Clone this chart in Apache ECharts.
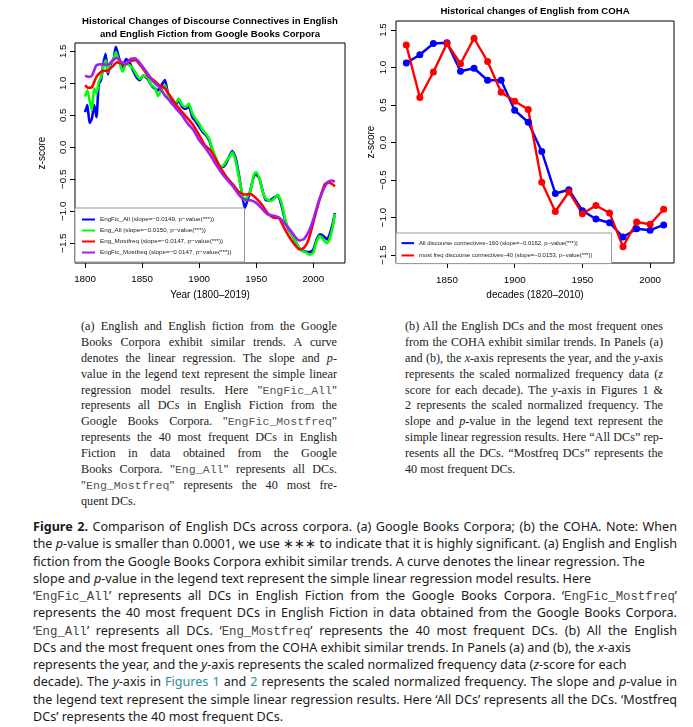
<!DOCTYPE html>
<html>
<head>
<meta charset="utf-8">
<script src="https://cdn.jsdelivr.net/npm/echarts@6/dist/echarts.min.js"></script>
<style>
body { margin: 0; width: 693px; height: 727px; background: #fff; position: relative; overflow: hidden; }
#chart { position: absolute; left: 0; top: 0; width: 693px; height: 305px; }
.sub { position: absolute; top: 319px; font-family: "Liberation Serif", serif; font-size: 12.2px; color: #222; }
.sub div { height: 15.9px; line-height: 15.9px; text-align: justify; text-align-last: justify; overflow: hidden; }
.sub div.last { text-align-last: left; }
.mono { font-family: "Liberation Mono", monospace; color: #555; }
.sub .mono { font-size: 11.6px; }
.cap { position: absolute; left: 33px; top: 518px; width: 644px; font-family: "Noto Sans", sans-serif; font-size: 12.6px; color: #1a1a1a; }
.cap div { height: 17.27px; line-height: 17.27px; white-space: nowrap; overflow: hidden; }
.cap div.j { white-space: normal; text-align: justify; text-align-last: justify; }
.cap .mono { font-size: 12.3px; color: #444; }
.lnk { color: #2f8c9c; }
</style>
</head>
<body>
<div id="chart"></div>

<div class="sub" style="left:81px;width:256px;">
  <div>(a) English and English fiction from the Google</div>
  <div>Books Corpora exhibit similar trends. A curve</div>
  <div>denotes the linear regression. The slope and <i>p</i>-</div>
  <div>value in the legend text represent the simple linear</div>
  <div>regression model results. Here "<span class="mono">EngFic_All</span>"</div>
  <div>represents all DCs in English Fiction from the</div>
  <div>Google Books Corpora. "<span class="mono">EngFic_Mostfreq</span>"</div>
  <div>represents the 40 most frequent DCs in English</div>
  <div>Fiction in data obtained from the Google</div>
  <div>Books Corpora. "<span class="mono">Eng_All</span>" represents all DCs.</div>
  <div>"<span class="mono">Eng_Mostfreq</span>" represents the 40 most fre-</div>
  <div class="last">quent DCs.</div>
</div>

<div class="sub" style="left:405px;width:258px;">
  <div>(b) All the English DCs and the most frequent ones</div>
  <div>from the COHA exhibit similar trends. In Panels (a)</div>
  <div>and (b), the <i>x</i>-axis represents the year, and the <i>y</i>-axis</div>
  <div>represents the scaled normalized frequency data (<i>z</i></div>
  <div>score for each decade). The <i>y</i>-axis in Figures 1 &amp;</div>
  <div>2 represents the scaled normalized frequency. The</div>
  <div>slope and <i>p</i>-value in the legend text represent the</div>
  <div>simple linear regression results. Here “All DCs” rep-</div>
  <div>resents all the DCs. “Mostfreq DCs” represents the</div>
  <div class="last">40 most frequent DCs.</div>
</div>

<div class="cap">
  <div class="j"><b>Figure 2.</b> Comparison of English DCs across corpora. (a) Google Books Corpora; (b) the COHA. Note: When</div>
  <div class="j">the <i>p</i>-value is smaller than 0.0001, we use ∗∗∗ to indicate that it is highly significant. (a) English and English</div>
  <div>fiction from the Google Books Corpora exhibit similar trends. A curve denotes the linear regression. The</div>
  <div>slope and <i>p</i>-value in the legend text represent the simple linear regression model results. Here</div>
  <div class="j">‘<span class="mono">EngFic_All</span>’ represents all DCs in English Fiction from the Google Books Corpora. ‘<span class="mono">EngFic_Mostfreq</span>’</div>
  <div class="j">represents the 40 most frequent DCs in English Fiction in data obtained from the Google Books Corpora.</div>
  <div class="j">‘<span class="mono">Eng_All</span>’ represents all DCs. ‘<span class="mono">Eng_Mostfreq</span>’ represents the 40 most frequent DCs. (b) All the English</div>
  <div>DCs and the most frequent ones from the COHA exhibit similar trends. In Panels (a) and (b), the <i>x</i>-axis</div>
  <div>represents the year, and the <i>y</i>-axis represents the scaled normalized frequency data (<i>z</i>-score for each</div>
  <div class="j">decade). The <i>y</i>-axis in <span class="lnk">Figures 1</span> and <span class="lnk">2</span> represents the scaled normalized frequency. The slope and <i>p</i>-value in</div>
  <div class="j">the legend text represent the simple linear regression results. Here ‘All DCs’ represents all the DCs. ‘Mostfreq</div>
  <div>DCs’ represents the 40 most frequent DCs.</div>
</div>

<script>
// panel (a): Google Books, [year, z-score]
var engFicAll = [[1800,0.55],[1802,0.66],[1804,0.38],[1806,0.45],[1808,0.66],[1810,0.47],[1812,0.99],[1814,1.05],[1816,1.30],[1818,1.46],[1820,1.14],[1822,1.28],[1825,1.38],[1827,1.57],[1830,1.38],[1833,1.25],[1836,1.38],[1839,1.33],[1842,1.20],[1845,1.10],[1848,1.05],[1851,1.12],[1855,1.07],[1858,0.97],[1861,0.92],[1864,0.89],[1867,0.97],[1870,1.05],[1873,0.81],[1876,0.71],[1879,0.66],[1882,0.73],[1885,0.63],[1888,0.60],[1891,0.63],[1894,0.47],[1897,0.40],[1900,0.32],[1903,0.24],[1906,0.19],[1909,0.10],[1912,-0.07],[1915,-0.20],[1918,-0.31],[1921,-0.31],[1924,-0.24],[1927,-0.12],[1929,-0.06],[1932,-0.17],[1935,-0.45],[1938,-0.78],[1940,-0.95],[1942,-0.85],[1945,-0.67],[1948,-0.45],[1950,-0.43],[1953,-0.50],[1955,-0.64],[1958,-0.82],[1960,-0.83],[1963,-0.82],[1966,-0.78],[1969,-0.76],[1972,-0.90],[1975,-1.12],[1978,-1.28],[1981,-1.36],[1984,-1.46],[1987,-1.56],[1990,-1.61],[1993,-1.63],[1997,-1.64],[2000,-1.60],[2003,-1.44],[2006,-1.36],[2009,-1.39],[2012,-1.44],[2014,-1.38],[2017,-1.20],[2019,-1.03]];
var engAll = [[1800,0.79],[1802,0.89],[1804,0.73],[1806,0.58],[1808,0.92],[1810,0.84],[1812,1.02],[1814,1.10],[1816,1.25],[1818,1.36],[1820,1.18],[1822,1.31],[1825,1.37],[1827,1.49],[1830,1.33],[1833,1.18],[1836,1.31],[1839,1.28],[1842,1.23],[1845,1.14],[1848,1.07],[1851,1.12],[1855,1.09],[1858,0.97],[1861,0.94],[1864,0.80],[1867,0.90],[1870,0.97],[1873,0.79],[1876,0.68],[1879,0.68],[1882,0.76],[1885,0.66],[1888,0.63],[1891,0.68],[1894,0.53],[1897,0.44],[1900,0.37],[1903,0.27],[1906,0.21],[1909,0.12],[1912,-0.05],[1915,-0.18],[1918,-0.30],[1921,-0.29],[1924,-0.21],[1927,-0.14],[1929,-0.08],[1932,-0.22],[1935,-0.48],[1938,-0.75],[1940,-0.83],[1942,-0.78],[1945,-0.67],[1948,-0.43],[1950,-0.39],[1953,-0.50],[1955,-0.65],[1958,-0.80],[1960,-0.82],[1963,-0.84],[1966,-0.80],[1969,-0.74],[1972,-0.86],[1975,-1.10],[1978,-1.27],[1981,-1.36],[1984,-1.46],[1987,-1.56],[1990,-1.62],[1993,-1.64],[1997,-1.68],[2000,-1.65],[2003,-1.47],[2006,-1.39],[2009,-1.45],[2012,-1.50],[2014,-1.45],[2017,-1.25],[2019,-1.04]];
var engMostfreq = [[1800,0.97],[1803,0.93],[1806,0.94],[1810,1.10],[1815,1.19],[1820,1.20],[1825,1.28],[1828,1.33],[1832,1.31],[1836,1.30],[1840,1.35],[1844,1.36],[1850,1.25],[1855,1.12],[1860,1.05],[1865,0.97],[1870,0.92],[1875,0.79],[1880,0.66],[1885,0.55],[1890,0.45],[1895,0.34],[1900,0.19],[1905,0.03],[1910,-0.05],[1915,-0.20],[1920,-0.36],[1925,-0.49],[1930,-0.59],[1935,-0.70],[1940,-0.74],[1945,-0.73],[1950,-0.80],[1955,-0.90],[1960,-1.03],[1965,-1.10],[1970,-1.11],[1975,-1.28],[1980,-1.43],[1985,-1.55],[1988,-1.60],[1992,-1.57],[1996,-1.44],[2000,-1.18],[2005,-0.85],[2010,-0.58],[2013,-0.55],[2016,-0.57],[2019,-0.61]];
var engFicMostfreq = [[1800,1.12],[1803,1.10],[1806,1.12],[1810,1.28],[1815,1.30],[1820,1.29],[1825,1.37],[1828,1.40],[1832,1.33],[1836,1.31],[1840,1.38],[1844,1.39],[1850,1.27],[1855,1.15],[1860,1.02],[1865,0.94],[1870,0.81],[1875,0.71],[1880,0.60],[1885,0.50],[1890,0.37],[1895,0.27],[1900,0.11],[1905,0.00],[1910,-0.13],[1915,-0.28],[1920,-0.41],[1925,-0.52],[1930,-0.62],[1935,-0.75],[1940,-0.82],[1945,-0.83],[1950,-0.87],[1955,-0.96],[1960,-1.05],[1965,-1.07],[1970,-1.10],[1975,-1.19],[1980,-1.30],[1985,-1.42],[1988,-1.46],[1992,-1.43],[1996,-1.32],[2000,-1.13],[2005,-0.83],[2010,-0.62],[2013,-0.54],[2016,-0.52],[2019,-0.54]];

// panel (b): COHA decades
var decades = [1820,1830,1840,1850,1860,1870,1880,1890,1900,1910,1920,1930,1940,1950,1960,1970,1980,1990,2000,2010];
var allDCs = [1.06,1.17,1.32,1.33,0.95,0.99,0.83,0.83,0.43,0.27,-0.12,-0.68,-0.63,-0.91,-1.02,-1.07,-1.26,-1.15,-1.17,-1.10];
var mostfreqDCs = [1.30,0.60,0.94,1.32,1.05,1.39,1.08,0.67,0.55,0.44,-0.53,-0.92,-0.66,-0.95,-0.84,-0.94,-1.39,-1.06,-1.09,-0.89];

var xTicksA = [1800, 1850, 1900, 1950, 2000];
var xTicksB = [1850, 1900, 1950, 2000];
var yTicks = [-1.5, -1, -0.5, 0, 0.5, 1, 1.5];

var namesA = [
  "EngFic_All (slope=\u22120.0149, p\u2212value(***))",
  "Eng_All (slope=\u22120.0150, p\u2212value(***))",
  "Eng_Mostfreq (slope=\u22120.0147, p\u2212value(***))",
  "EngFic_Mostfreq (slope=\u22120.0147, p\u2212value(***))"
];
var namesB = [
  "All discourse connectives\u2212160 (slope=\u22120.0162, p\u2212value(***))",
  "most freq discourse connectives\u221240 (slope=\u22120.0153, p\u2212value(***))"
];

var FONT = "Liberation Sans";

function fmtY(v) {
  return (v < 0 ? "\u2212" : "") + Math.abs(v).toFixed(1);
}

function xAxis(idx, min, max, ticks, name, margin) {
  return {
    type: "value", gridIndex: idx, min: min, max: max,
    name: name, nameLocation: "middle", nameGap: 27,
    nameTextStyle: { fontFamily: FONT, fontSize: 10, color: "#000" },
    axisLine: { show: false, onZero: false },
    splitLine: { show: false },
    axisTick: { show: true, customValues: ticks, length: 5, lineStyle: { color: "#000" } },
    axisLabel: { customValues: ticks, margin: margin, formatter: function (v) { return String(v); },
      fontFamily: FONT, fontSize: 9.8, color: "#000" }
  };
}

function yAxis(idx, min, max, gap, margin) {
  return {
    type: "value", gridIndex: idx, min: min, max: max,
    name: "z-score", nameLocation: "middle", nameRotate: 90, nameGap: gap,
    nameTextStyle: { fontFamily: FONT, fontSize: 10, color: "#000" },
    axisLine: { show: false, onZero: false },
    splitLine: { show: false },
    axisTick: { show: true, customValues: yTicks, length: 5, lineStyle: { color: "#000" } },
    axisLabel: { customValues: yTicks, rotate: 90, margin: margin, formatter: fmtY,
      fontFamily: FONT, fontSize: 9.8, color: "#000" }
  };
}

function lineA(name, data, color) {
  return {
    name: name, type: "line", xAxisIndex: 0, yAxisIndex: 0, data: data,
    showSymbol: false, smooth: 0.2, color: color,
    lineStyle: { width: 2.6, color: color }
  };
}

function lineB(name, vals, color) {
  return {
    name: name, type: "line", xAxisIndex: 1, yAxisIndex: 1,
    data: decades.map(function (d, i) { return [d, vals[i]]; }),
    symbol: "circle", symbolSize: 7, showSymbol: true, color: color,
    itemStyle: { color: color },
    lineStyle: { width: 2.4, color: color }
  };
}

var myChart = echarts.init(document.getElementById("chart"));
myChart.setOption({
  animation: false,
  backgroundColor: "#fff",
  title: [
    {
      text: "Historical Changes of Discourse Connectives in English\nand English Fiction from Google Books Corpora",
      left: 210, top: 15, textAlign: "center", padding: 0,
      textStyle: { fontFamily: FONT, fontSize: 9.6, fontWeight: "bold", lineHeight: 12.6, color: "#000" }
    },
    {
      text: "Historical changes of English from COHA",
      left: 535, top: 5, textAlign: "center", padding: 0,
      textStyle: { fontFamily: FONT, fontSize: 9.6, fontWeight: "bold", lineHeight: 12, color: "#000" }
    }
  ],
  grid: [
    { left: 75, top: 43, width: 270, height: 220, show: true, borderColor: "#000", borderWidth: 1, backgroundColor: "transparent" },
    { left: 396, top: 21, width: 278, height: 242, show: true, borderColor: "#000", borderWidth: 1, backgroundColor: "transparent" }
  ],
  xAxis: [
    xAxis(0, 1791.2, 2027.8, xTicksA, "Year (1800\u20132019)", 11),
    xAxis(1, 1812.4, 2017.6, xTicksB, "decades (1820\u20132010)", 12)
  ],
  yAxis: [
    yAxis(0, -1.81, 1.63, 28, 7),
    yAxis(1, -1.607, 1.62, 20, 8)
  ],
  legend: [
    {
      data: namesA, orient: "vertical", left: 75, top: 208,
      icon: "rect", itemWidth: 13, itemHeight: 2, itemGap: 0,
      padding: [6, 13, 4, 7], borderColor: "#999", borderWidth: 1, backgroundColor: "#fff",
      selectedMode: false,
      textStyle: { fontFamily: FONT, fontSize: 6.25, lineHeight: 11, color: "#222" }
    },
    {
      data: namesB, orient: "vertical", left: 396, top: 233,
      icon: "rect", itemWidth: 12.5, itemHeight: 2, itemGap: 0,
      padding: [4, 19, 2, 5.5], borderColor: "#999", borderWidth: 1, backgroundColor: "#fff",
      selectedMode: false,
      textStyle: { fontFamily: FONT, fontSize: 5.9, lineHeight: 12.3, color: "#222" }
    }
  ],
  series: [
    lineA(namesA[0], engFicAll, "#0000ff"),
    lineA(namesA[1], engAll, "#00ff00"),
    lineA(namesA[2], engMostfreq, "#ff0000"),
    lineA(namesA[3], engFicMostfreq, "#a020f0"),
    lineB(namesB[0], allDCs, "#0000ff"),
    lineB(namesB[1], mostfreqDCs, "#ff0000")
  ]
});
</script>
</body>
</html>
